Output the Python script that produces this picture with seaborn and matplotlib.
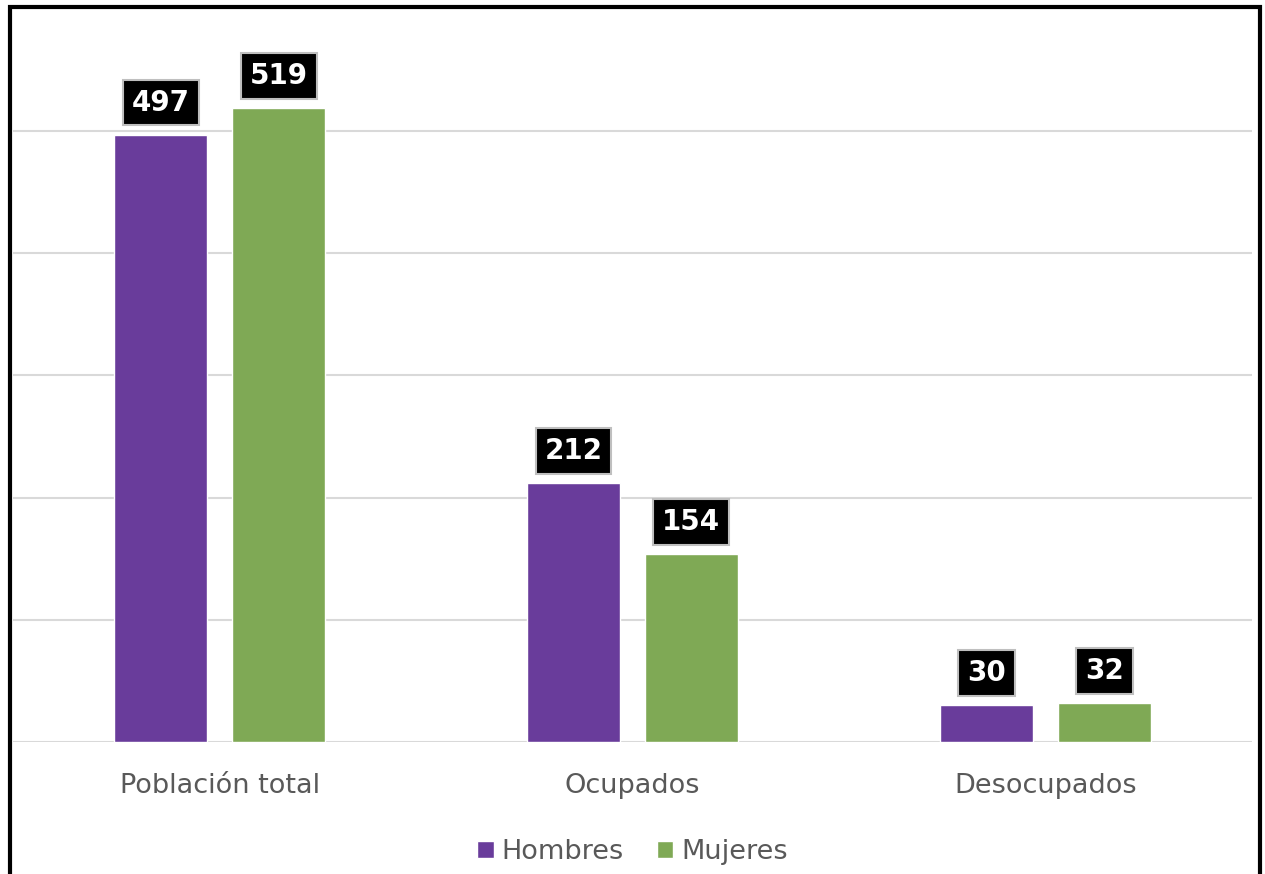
import numpy as np
import pandas as pd
import matplotlib.pyplot as plt
import seaborn as sns
from matplotlib.patches import Rectangle

# data
categorias = ["Población total", "Ocupados", "Desocupados"]
hombres = [497, 212, 30]
mujeres = [519, 154, 32]
series = ["Hombres", "Mujeres"]
colores = ["#693C9B", "#7FA955"]

df = pd.DataFrame({
    "categoria": categorias * 2,
    "valor": hombres + mujeres,
    "sexo": [series[0]] * 3 + [series[1]] * 3,
})

sns.set_theme(style="white")
plt.rcParams["font.family"] = ["DejaVu Sans"]

fig = plt.figure(figsize=(12.65, 8.74), dpi=100)
ax = fig.add_axes([0.0105, 0.151, 0.979, 0.839])

sns.barplot(data=df, x="categoria", y="valor", hue="sexo", palette=colores,
            width=0.571, gap=0.21, ax=ax, saturation=1, errorbar=None)

ax.set_xlim(-0.5, 2.5)
ax.set_ylim(0, 600)
ax.set_yticks([0, 100, 200, 300, 400, 500])
ax.yaxis.grid(True, color="#D9D9D9", linewidth=1.5)
ax.set_axisbelow(True)
ax.tick_params(axis="y", left=False, labelleft=False)
ax.tick_params(axis="x", bottom=False, labelsize=19.5, labelcolor="#595959", pad=16)
ax.set_xlabel("")
ax.set_ylabel("")
for s in ax.spines.values():
    s.set_visible(False)

# etiquetas de valor
for cont in ax.containers:
    for bar in cont:
        h = bar.get_height()
        ax.annotate(f"{int(round(h))}", (bar.get_x() + bar.get_width() / 2, h),
                    xytext=(0, 13), textcoords="offset points",
                    ha="center", va="bottom", fontsize=20, fontweight="heavy",
                    color="white",
                    bbox=dict(boxstyle="square,pad=0.32", fc="black",
                              ec="#BFBFBF", lw=1.5))

# leyenda
handles, labels = ax.get_legend_handles_labels()
if ax.legend_:
    ax.legend_.remove()
fig.legend(handles, labels, loc="center", bbox_to_anchor=(0.5, 0.025), ncol=2,
           frameon=False, fontsize=19.5, handlelength=0.6, handleheight=0.6,
           handletextpad=0.3, columnspacing=1.2, labelcolor="#595959")

# marco negro
fig.patches.append(Rectangle((0.0079, -0.1), 0.988, 1.092, transform=fig.transFigure,
                             fill=False, ec="black", lw=3))

fig.savefig("out.png", dpi=100)
